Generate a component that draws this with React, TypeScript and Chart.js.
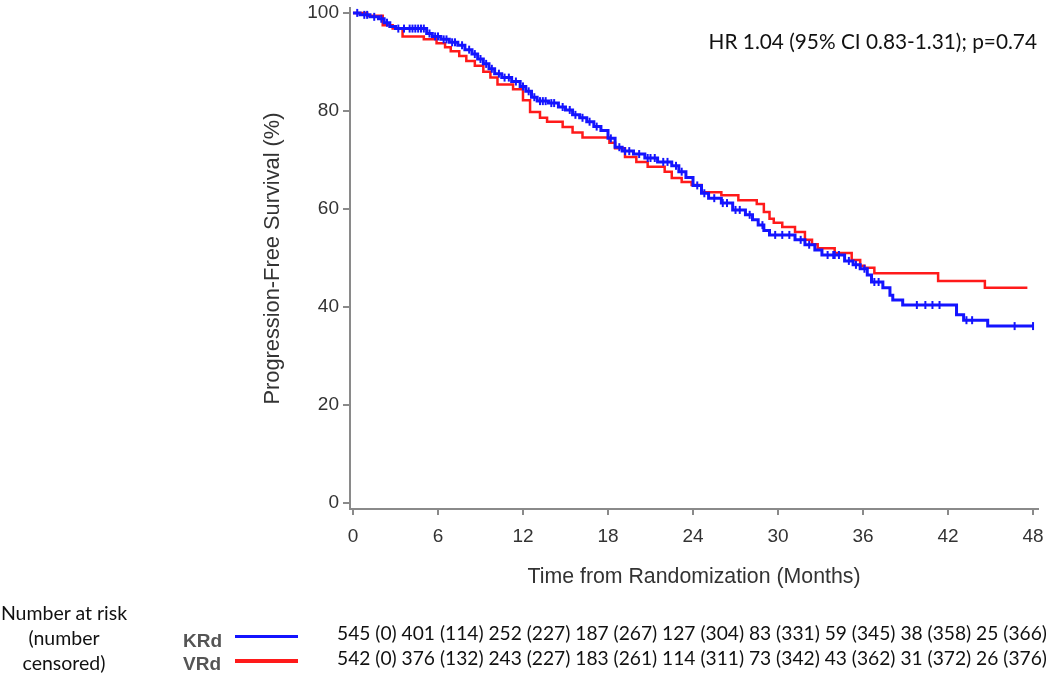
import React, { useEffect, useRef } from "react";
import { Chart, registerables } from "chart.js";

Chart.register(...registerables);

// ---------- data ----------
const monthTicks = [0, 6, 12, 18, 24, 30, 36, 42, 48];
const pfsTicks = [0, 20, 40, 60, 80, 100];

const krdTimes = [0, 0.5, 1.2, 1.8, 2.2, 2.6, 3.0, 5.2, 5.6, 6.2, 6.8, 7.4, 7.9, 8.4, 8.8, 9.2, 9.6, 10.0, 10.5, 11.2, 11.8, 12.2, 12.6, 13.0, 13.8, 14.5, 15.0, 15.5, 16.0, 16.5, 17.0, 17.5, 18.0, 18.5, 19.0, 19.8, 20.6, 21.5, 22.5, 23.0, 23.5, 24.0, 24.6, 25.1, 26.0, 26.8, 27.7, 28.2, 28.6, 29.0, 29.4, 31.2, 31.9, 32.6, 33.1, 34.7, 35.3, 35.8, 36.3, 36.6, 37.4, 37.9, 38.1, 38.8, 42.6, 43.1, 44.8, 48.0];
const krdValues = [100, 99.6, 99.2, 98.8, 98, 97.2, 96.8, 95.8, 95.2, 94.6, 94, 93.4, 92.5, 91.6, 90.6, 89.6, 88.6, 87.6, 86.8, 86, 85, 84, 82.8, 82, 81.6, 80.8, 80.2, 79.2, 78.6, 77.8, 76.8, 76.0, 74.4, 72.6, 71.8, 71.2, 70.4, 69.6, 68.8, 67.6, 66.4, 64.8, 63.2, 62.2, 61.2, 59.8, 58.8, 57.8, 56.7, 55.6, 54.7, 53.7, 52.7, 51.6, 50.6, 49.4, 48.6, 47.8, 46.5, 45.1, 43.9, 42.4, 41.4, 40.4, 38.4, 37.3, 36.1, 36.1];

const vrdTimes = [0, 1.0, 2.1, 2.8, 3.5, 5.0, 5.9, 6.5, 6.9, 7.5, 8.0, 8.6, 9.2, 9.7, 10.2, 11.3, 12.0, 12.5, 13.2, 13.7, 14.8, 15.5, 16.2, 18.1, 18.5, 19.2, 20.0, 20.8, 22.0, 22.5, 23.2, 23.9, 24.6, 26.0, 27.2, 28.5, 29.0, 29.4, 29.7, 30.3, 31.2, 31.9, 32.4, 32.8, 34.0, 35.2, 35.8, 36.1, 36.8, 41.3, 44.6, 47.6];
const vrdValues = [100, 99.4, 97.5, 96.8, 95.2, 94.6, 93.8, 93, 92.2, 91.2, 90.2, 89.2, 88, 86.8, 85.4, 84.4, 82.2, 79.8, 78.6, 77.8, 76.7, 75.6, 74.6, 73.5, 72.4, 70.6, 69.6, 68.6, 67.6, 66.3, 65.5, 64.9, 63.4, 62.8, 61.8, 61.0, 59.4, 58.0, 57.2, 56.3, 55.3, 53.7, 52.8, 52.0, 51.0, 49.6, 48.4, 48.0, 46.9, 45.3, 43.9, 43.9];

const krdCensorTimes = [0.3, 0.8, 1.0, 1.5, 2.0, 2.4, 3.2, 3.6, 4.0, 4.2, 4.4, 4.6, 4.8, 5.0, 5.4, 5.8, 6.0, 6.4, 6.6, 7.0, 7.2, 7.7, 8.2, 8.6, 9.0, 9.4, 9.8, 10.3, 10.7, 11.0, 11.5, 12.0, 12.4, 12.8, 13.2, 13.4, 13.6, 14.0, 14.2, 14.8, 15.3, 15.7, 16.2, 16.7, 17.2, 18.2, 18.8, 19.2, 19.5, 20.2, 20.8, 21.0, 21.3, 21.9, 22.2, 22.8, 23.2, 24.3, 24.8, 25.5, 26.1, 26.4, 27.0, 27.3, 28.0, 28.9, 29.8, 30.3, 30.8, 31.6, 32.2, 33.5, 33.9, 34.0, 34.3, 35.0, 35.5, 36.1, 36.8, 37.1, 39.8, 40.4, 40.9, 41.4, 43.3, 43.7, 46.7, 48.0];
const krdCensorValues = [100, 99.6, 99.6, 99.2, 98.8, 98, 96.8, 96.8, 96.8, 96.8, 96.8, 96.8, 96.8, 96.8, 95.8, 95.2, 95.2, 94.6, 94.6, 94, 94, 93.4, 92.5, 91.6, 90.6, 89.6, 88.6, 87.6, 86.8, 86.8, 86, 85, 84, 82.8, 82, 82, 82, 81.6, 81.6, 80.8, 80.2, 79.2, 78.6, 77.8, 76.8, 74.4, 72.6, 71.8, 71.8, 71.2, 70.4, 70.4, 70.4, 69.6, 69.6, 68.8, 67.6, 64.8, 63.2, 62.2, 61.2, 61.2, 59.8, 59.8, 58.8, 56.7, 54.7, 54.7, 54.7, 53.7, 52.7, 50.6, 50.6, 50.6, 50.6, 49.4, 48.6, 47.8, 45.1, 45.1, 40.4, 40.4, 40.4, 40.4, 37.3, 37.3, 36.1, 36.1];

const krdAtRisk = ["545 (0)", "401 (114)", "252 (227)", "187 (267)", "127 (304)", "83 (331)", "59 (345)", "38 (358)", "25 (366)"];
const vrdAtRisk = ["542 (0)", "376 (132)", "243 (227)", "183 (261)", "114 (311)", "73 (342)", "43 (362)", "31 (372)", "26 (376)"];

const hrText = "HR 1.04 (95% CI 0.83-1.31); p=0.74";
const xTitle = "Time from Randomization (Months)";
const yTitle = "Progression-Free Survival (%)";

// ---------- styles ----------
const BLUE = "#1414ff";
const RED = "#ff1a1a";
const AXIS = "#8a8a8a";
const axisFont = '"Liberation Sans", Arial, sans-serif';
const noteFont = 'Lato, "Open Sans", sans-serif';

export default function App() {
  const canvasRef = useRef<HTMLCanvasElement | null>(null);

  useEffect(() => {
    if (!canvasRef.current) return;
    const chart = new Chart(canvasRef.current, {
      type: "line",
      data: {
        datasets: [
          {
            label: "KRd censored",
            data: krdCensorTimes.map((t, i) => ({ x: t, y: krdCensorValues[i] })),
            showLine: false,
            pointStyle: "line",
            rotation: 90,
            pointRadius: 4,
            borderColor: BLUE,
            backgroundColor: BLUE,
            pointBorderWidth: 2,
            order: 0,
          } as any,
          {
            label: "KRd",
            data: krdTimes.map((t, i) => ({ x: t, y: krdValues[i] })),
            borderColor: BLUE,
            borderWidth: 3,
            stepped: true,
            pointRadius: 0,
            fill: false,
            order: 1,
          },
          {
            label: "VRd",
            data: vrdTimes.map((t, i) => ({ x: t, y: vrdValues[i] })),
            borderColor: RED,
            borderWidth: 2.5,
            stepped: true,
            pointRadius: 0,
            fill: false,
            order: 2,
          },
        ],
      },
      options: {
        responsive: false,
        animation: false,
        events: [],
        layout: { padding: { left: 250, right: 12, top: 8, bottom: 82 } },
        plugins: { legend: { display: false }, tooltip: { enabled: false } },
        scales: {
          x: {
            type: "linear",
            min: -0.21,
            max: 48.35,
            afterBuildTicks: (s: any) => {
              s.ticks = monthTicks.map((v) => ({ value: v }));
            },
            afterFit: (s: any) => {
              s.height = 85;
              s.paddingLeft = 0;
              s.paddingRight = 0;
            },
            border: { display: true, color: AXIS, width: 2 },
            grid: { display: true, drawOnChartArea: false, drawTicks: true, tickLength: 6, color: AXIS, lineWidth: 2 },
            ticks: { font: { family: axisFont, size: 19 }, color: "#333", padding: 10, maxRotation: 0, autoSkip: false },
            title: { display: true, text: xTitle, font: { family: axisFont, size: 21.3 }, color: "#333", padding: { top: 0, bottom: 4 } },
          },
          y: {
            type: "linear",
            min: -1.22,
            max: 101,
            afterBuildTicks: (s: any) => {
              s.ticks = pfsTicks.map((v) => ({ value: v }));
            },
            afterFit: (s: any) => {
              s.width = 100;
              s.paddingTop = 0;
              s.paddingBottom = 0;
            },
            border: { display: true, color: AXIS, width: 2 },
            grid: { display: true, drawOnChartArea: false, drawTicks: true, tickLength: 7, color: AXIS, lineWidth: 2 },
            ticks: { font: { family: axisFont, size: 19 }, color: "#333", padding: 4 },
            title: { display: true, text: yTitle, font: { family: axisFont, size: 21.8 }, color: "#333", padding: { top: 10, bottom: 0 } },
          },
        },
      },
    });
    return () => chart.destroy();
  }, []);

  const rowStyle: React.CSSProperties = {
    position: "absolute",
    left: 337,
    fontFamily: noteFont,
    fontSize: 19.2,
    lineHeight: "24px",
    whiteSpace: "nowrap",
    color: "#111",
  };

  return (
    <div style={{ position: "absolute", left: 0, top: 0, width: 1050, height: 676, background: "#fff", overflow: "hidden" }}>
      <canvas ref={canvasRef} width={1050} height={676} style={{ display: "block" }} />
      <div
        style={{
          position: "absolute",
          right: 13,
          top: 28,
          fontFamily: noteFont,
          fontSize: 20.8,
          lineHeight: "26px",
          whiteSpace: "nowrap",
          color: "#111",
        }}
      >
        {hrText}
      </div>
      <div
        style={{
          position: "absolute",
          left: 0,
          top: 600,
          width: 128,
          textAlign: "center",
          fontFamily: noteFont,
          fontSize: 19.5,
          lineHeight: "25px",
          color: "#111",
          whiteSpace: "nowrap",
        }}
      >
        <div>Number at risk</div>
        <div>(number</div>
        <div>censored)</div>
      </div>
      <div style={{ position: "absolute", left: 183, top: 629, fontFamily: axisFont, fontWeight: "bold", fontSize: 19, lineHeight: "24px", color: "#555" }}>KRd</div>
      <div style={{ position: "absolute", left: 183, top: 652, fontFamily: axisFont, fontWeight: "bold", fontSize: 19, lineHeight: "24px", color: "#555" }}>VRd</div>
      <div style={{ position: "absolute", left: 235, top: 635, width: 63, height: 3, background: BLUE }} />
      <div style={{ position: "absolute", left: 235, top: 659, width: 63, height: 4, background: RED }} />
      <div style={{ ...rowStyle, top: 621 }}>{krdAtRisk.join(" ")}</div>
      <div style={{ ...rowStyle, top: 646 }}>{vrdAtRisk.join(" ")}</div>
    </div>
  );
}
